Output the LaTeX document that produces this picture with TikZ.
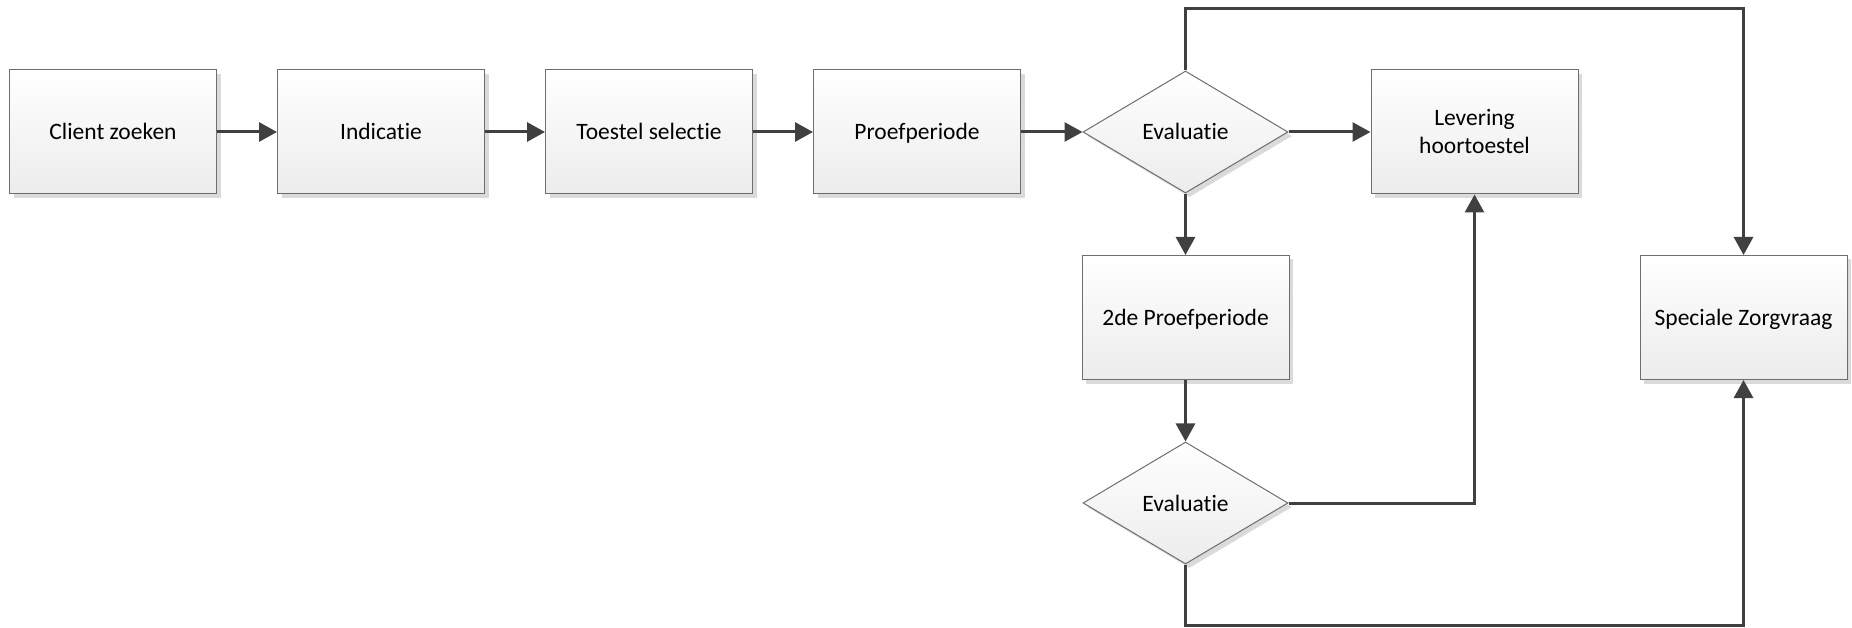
\documentclass[tikz,border=0pt]{standalone}
\usepackage{fontspec}
\setmainfont[Ligatures=NoCommon]{Carlito}
\usetikzlibrary{shapes.geometric,arrows.meta,shadows}
\definecolor{linec}{RGB}{64,64,64}
\definecolor{borderc}{RGB}{110,110,110}
\definecolor{fillbot}{RGB}{236,236,236}
\definecolor{shadowc}{RGB}{218,218,218}
\begin{document}
\begin{tikzpicture}[x=1pt,y=-1pt,
  base/.style={draw=borderc,line width=1pt,top color=white,bottom color=fillbot,
    font=\fontsize{23.5}{28}\selectfont,text=black,align=center,
    text height=18pt,text depth=2pt,
    drop shadow={shadow xshift=4pt,shadow yshift=-4pt,fill=shadowc,opacity=1}},
  stepbox/.style={base,rectangle,minimum width=207pt,minimum height=124pt,inner sep=0pt},
  decision/.style={base,diamond,minimum width=205pt,minimum height=122pt,inner sep=0pt,aspect=1.68},
  arr/.style={draw=linec,line width=3pt,-{Triangle[length=18pt,width=19pt]}},
  ln/.style={draw=linec,line width=3pt}]
\useasboundingbox (0,0) rectangle (1852,628);
\node[stepbox] (b1) at (113,132) {Client zoeken};
\node[stepbox] (b2) at (381,132) {Indicatie};
\node[stepbox] (b3) at (649,132) {Toestel selectie};
\node[stepbox] (b4) at (917,132) {Proefperiode};
\node[decision] (d1) at (1185.5,132) {Evaluatie};
\node[stepbox,text height={},text depth={}] (lev) at (1474.5,132) {Levering\\hoortoestel};
\node[stepbox] (p2) at (1185.5,317.5) {2de Proefperiode};
\node[decision] (d2) at (1185.5,503) {Evaluatie};
\node[stepbox] (sz) at (1743.5,317.5) {Speciale Zorgvraag};
\coordinate (tl) at (1185.5,9);
\coordinate (tr) at (1743.5,9);
\coordinate (bl) at (1185.5,625);
\coordinate (br) at (1743.5,625);
\draw[arr] (b1) -- (b2);
\draw[arr] (b2) -- (b3);
\draw[arr] (b3) -- (b4);
\draw[arr] (b4) -- (d1);
\draw[arr] (d1) -- (lev);
\draw[arr] (d1) -- (p2);
\draw[arr] (p2) -- (d2);
\draw[arr] (d2.east) -| (lev.south);
\draw[arr] (d1.north) -- (tl) -- (tr) -- (sz.north);
\draw[arr] (d2.south) -- (bl) -- (br) -- (sz.south);
\end{tikzpicture}
\end{document}
